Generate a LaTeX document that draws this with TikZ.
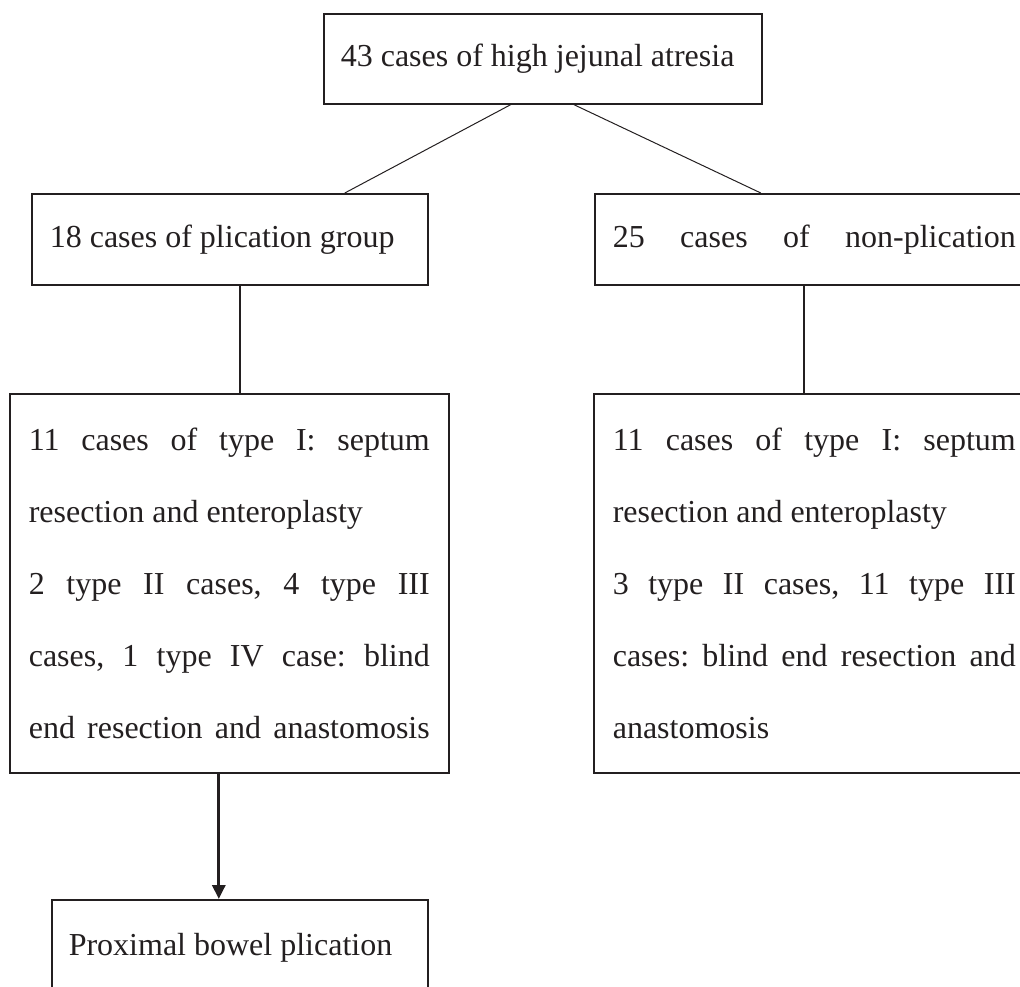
\documentclass[tikz,border=0pt]{standalone}
\usepackage{fontspec}
\setmainfont{Liberation Serif}
\usetikzlibrary{arrows.meta,calc}
\definecolor{ink}{HTML}{231F20}
\tikzset{
  box/.style={draw=ink, line width=1.6pt, rectangle, anchor=north west, align=justify,
    font=\fontsize{32pt}{72pt}\selectfont\frenchspacing, text=ink, inner ysep=0pt},
  thinline/.style={draw=ink, line width=1pt},
  vline/.style={draw=ink, line width=1.5pt},
  arr/.style={draw=ink, line width=3pt, -{Triangle[width=13pt,length=14pt]}},
}
\newcommand{\spr}[2]{\makebox[#1][s]{#2}}
\begin{document}
\begin{tikzpicture}
\useasboundingbox (0,0) rectangle (1020pt,-987pt);
\clip (0,0) rectangle (1020pt,-987pt);

\node[box, text width=404pt, inner xsep=17pt, minimum height=90pt, yshift=-2pt] (top) at (323pt,-11pt)
  {43 cases of high jejunal atresia};
\node[box, text width=360pt, inner xsep=18pt, minimum height=91pt] (pl) at (31pt,-193pt)
  {18 cases of plication group};
\node[box, text width=403pt, inner xsep=18pt, minimum height=91pt] (np) at (594pt,-193pt)
  {\spr{403pt}{25 cases of non-plication}};
\node[box, text width=401pt, inner xsep=19pt, minimum height=379pt] (ll) at (9pt,-393pt)
  {\spr{401pt}{11 cases of type I: septum}\\
   resection and enteroplasty\\
   \spr{401pt}{2 type II cases, 4 type III}\\
   \spr{401pt}{cases, 1 type IV case: blind}\\
   \spr{401pt}{end resection and anastomosis}};
\node[box, text width=403pt, inner xsep=19pt, minimum height=379pt] (lr) at (593pt,-393pt)
  {\spr{403pt}{11 cases of type I: septum}\\
   resection and enteroplasty\\
   \spr{403pt}{3 type II cases, 11 type III}\\
   \spr{403pt}{cases: blind end resection and}\\
   anastomosis};
\node[box, text width=342pt, inner xsep=17pt, minimum height=96pt] (pb) at (51pt,-899pt)
  {Proximal bowel plication};

\draw[thinline] ([xshift=-32pt]top.south) -- ([xshift=115pt]pl.north);
\draw[thinline] ([xshift=31pt]top.south) -- ([xshift=-53.5pt]np.north);
\draw[vline] ([xshift=10pt]pl.south) -- ([xshift=10pt]pl.south |- ll.north);
\draw[vline] ([xshift=-10.5pt]np.south) -- ([xshift=-10.5pt]np.south |- lr.north);
\draw[arr] ([xshift=-10.5pt]ll.south) -- ([xshift=-10.5pt]ll.south |- pb.north);
\end{tikzpicture}
\end{document}
